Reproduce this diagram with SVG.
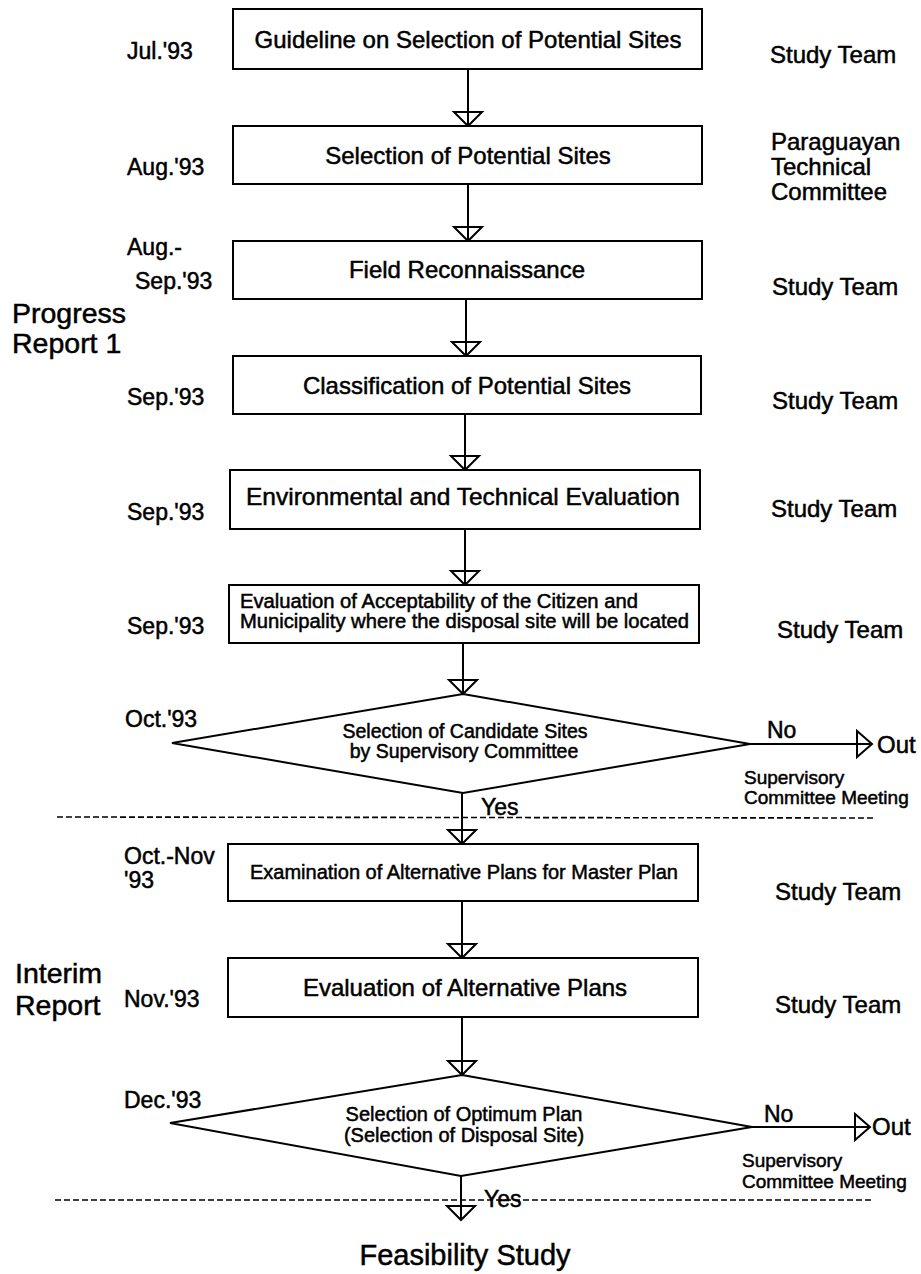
<svg xmlns="http://www.w3.org/2000/svg" width="921" height="1274" viewBox="0 0 921 1274">
<style>
text{font-family:"Liberation Sans",Arial,Helvetica,sans-serif;fill:#000;stroke:#000;stroke-width:0.5}
.box{fill:#fff;stroke:#000;stroke-width:2}
.dia{fill:#fff;stroke:#000;stroke-width:2}
.ln{fill:none;stroke:#000;stroke-width:2}
.hd{fill:none;stroke:#000;stroke-width:2;stroke-linejoin:miter}
.dash{fill:none;stroke:#000;stroke-width:1.6;stroke-dasharray:6 3}
.bt{font-size:24px;text-anchor:middle}
.dt{font-size:23px}
.rl{font-size:24px}
.big{font-size:28.5px}
.sm{font-size:19px}
</style>
<rect width="921" height="1274" fill="#fff" stroke="none"/>

<g id="connectors">
<line class="ln" x1="468" y1="69" x2="468" y2="126"/>
<polygon class="hd" points="454,112 482,112 468,126"/>
<line class="ln" x1="468" y1="184" x2="468" y2="241"/>
<polygon class="hd" points="454,227 482,227 468,241"/>
<line class="ln" x1="466" y1="299" x2="466" y2="356"/>
<polygon class="hd" points="452,342 480,342 466,356"/>
<line class="ln" x1="465" y1="414" x2="465" y2="470"/>
<polygon class="hd" points="451,456 479,456 465,470"/>
<line class="ln" x1="465" y1="529" x2="465" y2="585"/>
<polygon class="hd" points="451,571 479,571 465,585"/>
<line class="ln" x1="463" y1="643" x2="463" y2="694"/>
<polygon class="hd" points="449,680 477,680 463,694"/>
<line class="ln" x1="462" y1="793" x2="462" y2="844"/>
<polygon class="hd" points="448,830 476,830 462,844"/>
<line class="ln" x1="462" y1="901" x2="462" y2="958"/>
<polygon class="hd" points="448,944 476,944 462,958"/>
<line class="ln" x1="462" y1="1017" x2="462" y2="1075"/>
<polygon class="hd" points="448,1061 476,1061 462,1075"/>
<line class="ln" x1="461" y1="1176" x2="461" y2="1220"/>
<polygon class="hd" points="447,1206 475,1206 461,1220"/>
<line class="ln" x1="750" y1="744" x2="872" y2="744"/>
<polygon class="hd" points="857,731 857,757 872,744"/>
<line class="ln" x1="752" y1="1127" x2="870" y2="1127"/>
<polygon class="hd" points="855,1114 855,1140 870,1127"/>
<line class="dash" x1="57" y1="817" x2="873" y2="818"/>
<line class="dash" x1="55" y1="1200" x2="872" y2="1200"/>
<text class="dt" x="481" y="815">Yes</text>
<text class="dt" x="484" y="1207">Yes</text>
<text class="dt" x="767" y="738">No</text>
<text class="rl" x="877" y="753">Out</text>
<text class="dt" x="764" y="1122">No</text>
<text class="rl" x="872" y="1135">Out</text>
</g>

<g id="n1">
<rect class="box" x="233" y="9" width="469" height="60"/>
<text class="bt" x="468" y="47.5">Guideline on Selection of Potential Sites</text>
</g>
<g id="n2">
<rect class="box" x="233" y="126" width="469" height="58"/>
<text class="bt" x="468" y="163.5">Selection of Potential Sites</text>
</g>
<g id="n3">
<rect class="box" x="233" y="241" width="469" height="58"/>
<text class="bt" x="467" y="278">Field Reconnaissance</text>
</g>
<g id="n4">
<rect class="box" x="233" y="356" width="468" height="58"/>
<text class="bt" x="467" y="393.5">Classification of Potential Sites</text>
</g>
<g id="n5">
<rect class="box" x="230" y="470" width="470" height="59"/>
<text class="bt" x="463" y="505" style="font-size:24.5px">Environmental and Technical Evaluation</text>
</g>
<g id="n6">
<rect class="box" x="229" y="585" width="470" height="58"/>
<text x="240" y="608" style="font-size:19.5px" textLength="398" lengthAdjust="spacingAndGlyphs">Evaluation of Acceptability of the Citizen and</text>
<text x="240" y="628" style="font-size:19.5px" textLength="449" lengthAdjust="spacingAndGlyphs">Municipality where the disposal site will be located</text>
</g>
<g id="d1">
<polygon class="dia" points="463,694 750,744 463,793 172,743"/>
<text class="bt" x="465" y="738" style="font-size:19.5px">Selection of Candidate Sites</text>
<text class="bt" x="464" y="758" style="font-size:19.5px">by Supervisory Committee</text>
</g>
<g id="n7">
<rect class="box" x="228" y="844" width="470" height="57"/>
<text class="bt" x="464" y="879" style="font-size:20px">Examination of Alternative Plans for Master Plan</text>
</g>
<g id="n8">
<rect class="box" x="228" y="958" width="470" height="59"/>
<text class="bt" x="465" y="996">Evaluation of Alternative Plans</text>
</g>
<g id="d2">
<polygon class="dia" points="462,1075 752,1127 461,1176 170,1123"/>
<text class="bt" x="464" y="1121" style="font-size:20px">Selection of Optimum Plan</text>
<text class="bt" x="464" y="1142" style="font-size:20px">(Selection of Disposal Site)</text>
</g>
<g id="out-end">
<text class="bt" x="465" y="1265" style="font-size:29px">Feasibility Study</text>
</g>

<g id="dates">
<text class="dt" x="127" y="59">Jul.'93</text>
<text class="dt" x="127" y="175">Aug.'93</text>
<text class="dt" x="127" y="255">Aug.-</text>
<text class="dt" x="135" y="289">Sep.'93</text>
<text class="dt" x="127" y="405">Sep.'93</text>
<text class="dt" x="127" y="520">Sep.'93</text>
<text class="dt" x="127" y="634">Sep.'93</text>
<text class="dt" x="125" y="727">Oct.'93</text>
<text class="dt" x="124" y="864">Oct.-Nov</text>
<text class="dt" x="124" y="888">'93</text>
<text class="dt" x="124" y="1007">Nov.'93</text>
<text class="dt" x="124" y="1108">Dec.'93</text>
</g>
<g id="reports">
<text class="big" x="12" y="323">Progress</text>
<text class="big" x="12" y="353">Report 1</text>
<text class="big" x="15" y="983">Interim</text>
<text class="big" x="15" y="1015">Report</text>
</g>
<g id="actors">
<text class="rl" x="770" y="63">Study Team</text>
<text class="rl" x="771" y="150">Paraguayan</text>
<text class="rl" x="771" y="175">Technical</text>
<text class="rl" x="771" y="200">Committee</text>
<text class="rl" x="772" y="295">Study Team</text>
<text class="rl" x="772" y="409">Study Team</text>
<text class="rl" x="771" y="517">Study Team</text>
<text class="rl" x="777" y="638">Study Team</text>
<text class="sm" x="744" y="784">Supervisory</text>
<text class="sm" x="744" y="804">Committee Meeting</text>
<text class="rl" x="775" y="900">Study Team</text>
<text class="rl" x="775" y="1013">Study Team</text>
<text class="sm" x="742" y="1167">Supervisory</text>
<text class="sm" x="742" y="1188">Committee Meeting</text>
</g>
</svg>
